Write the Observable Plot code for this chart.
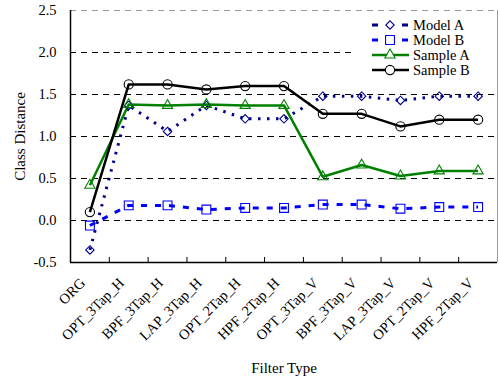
<!DOCTYPE html>
<html><head><meta charset="utf-8">
<script src="https://cdn.jsdelivr.net/npm/d3@7"></script>
<script src="https://cdn.jsdelivr.net/npm/@observablehq/plot@0.6"></script>
<style>body{margin:0;background:#fff} svg text{font-family:"Liberation Serif","Times New Roman",serif}</style>
</head><body><div id="chart"></div>
<script>
const categories = ["ORG","OPT_3Tap_H","BPF_3Tap_H","LAP_3Tap_H","OPT_2Tap_H","HPF_2Tap_H","OPT_3Tap_V","BPF_3Tap_V","LAP_3Tap_V","OPT_2Tap_V","HPF_2Tap_V"];
const modelA  = [-0.35, 1.37, 1.06, 1.37, 1.21, 1.21, 1.48, 1.48, 1.43, 1.48, 1.48];
const modelB  = [-0.06, 0.18, 0.18, 0.13, 0.15, 0.15, 0.19, 0.19, 0.14, 0.16, 0.16];
const sampleA = [0.42, 1.38, 1.37, 1.38, 1.37, 1.37, 0.52, 0.66, 0.53, 0.59, 0.59];
const sampleB = [0.10, 1.62, 1.62, 1.56, 1.60, 1.60, 1.27, 1.27, 1.12, 1.20, 1.20];
const yTicks = [-0.5, 0, 0.5, 1.0, 1.5, 2.0, 2.5];

const series = [
  {name:"Model A",  values:modelA,  color:"#00008b", symbol:"diamond2", r:3.8, dash:"2.5,6.5", width:3},
  {name:"Model B",  values:modelB,  color:"#0000ff", symbol:"square",   r:5,   dash:"6,8", width:3},
  {name:"Sample A", values:sampleA, color:"#008000", symbol:"triangle", r:3.8, dash:null,  width:2.5},
  {name:"Sample B", values:sampleB, color:"#000000", symbol:"circle",   r:4.6, dash:null,  width:2.5}
];
const rows = s => s.values.map((v,i)=>({i, cat:categories[i], v}));
const idx = d3.range(categories.length);
const bounds = idx.slice(1).map(i => i - 0.5);

const font = "'Liberation Serif','Times New Roman',serif";
const marks = [
  Plot.ruleY(yTicks.filter(t => t >= 0 && t < 2.5), {stroke:"black", strokeDasharray:"6,5", strokeWidth:1}),
  Plot.ruleY([2.5], {stroke:"#999", strokeDasharray:"6,5", strokeWidth:1}),
  Plot.ruleX([10.5], {stroke:"#999", strokeWidth:1}),
  Plot.ruleX(bounds, {y1:-0.5, y2:-0.44, stroke:"black", strokeWidth:1}),
  Plot.ruleY([-0.5], {stroke:"black", strokeWidth:1.5}),
  Plot.ruleX([-0.5], {stroke:"black", strokeWidth:1.5})
];
for (const s of series) {
  marks.push(Plot.line(rows(s), {x:"i", y:"v", stroke:s.color, strokeWidth:s.width, strokeDasharray:s.dash, strokeLinecap:"butt"}));
}
for (const s of series) {
  marks.push(Plot.dot(rows(s), {x:"i", y:"v", symbol:()=>s.symbol, r:s.r, stroke:s.color, fill:"none", strokeWidth:1.1}));
}
marks.push(
  Plot.axisY({ticks:yTicks, tickFormat:d=>d.toFixed(1), tickSize:0, tickPadding:14, fontSize:14.5,
    label:null}),
  Plot.axisY({ticks:[], tickSize:0, fontSize:15,
    label:"Class Distance", labelAnchor:"center", labelOffset:56, labelArrow:"none"}),
  Plot.axisX({ticks:idx, tickFormat:i=>categories[i], tickRotate:-45, tickSize:0, tickPadding:18, dx:-7, fontSize:14.5,
    label:null}),
  Plot.axisX({ticks:[], tickSize:0, fontSize:15,
    label:"Filter Type", labelAnchor:"center", labelOffset:110, labelArrow:"none"})
);

const chart = Plot.plot({
  width:500, height:380, marginLeft:70, marginRight:3, marginTop:10, marginBottom:118,
  style:{fontFamily:font, fontSize:"14.5px", color:"black", background:"white", overflow:"visible"},
  x:{domain:[-0.5, 10.5]},
  y:{domain:[-0.5, 2.5]},
  symbol:{type:"identity"},
  marks
});
document.getElementById("chart").append(chart);

// Legend (inside plot, top-right)
const svg = d3.select(chart);
const g = svg.append("g").attr("font-family", font).attr("font-size", 14.5).attr("text-anchor","start");
g.append("rect").attr("x",352).attr("y",12).attr("width",143).attr("height",74).attr("fill","white");
series.forEach((s, k) => {
  const y = 25 + k*15;
  g.append("line").attr("x1",372).attr("x2",409).attr("y1",y).attr("y2",y)
    .attr("stroke",s.color).attr("stroke-width",s.width).attr("stroke-dasharray", s.dash ? "6,24" : null);
  const sym = {diamond2:d3.symbolDiamond2, square:d3.symbolSquare, triangle:d3.symbolTriangle, circle:d3.symbolCircle}[s.symbol];
  g.append("path").attr("d", d3.symbol(sym, Math.PI*s.r*s.r)()).attr("transform",`translate(390,${y})`)
    .attr("fill", "white").attr("stroke", s.color).attr("stroke-width",1.1);
  g.append("text").attr("x",413).attr("y",y).attr("dy","0.35em").attr("fill","black").text(s.name);
});
</script>
</body></html>
